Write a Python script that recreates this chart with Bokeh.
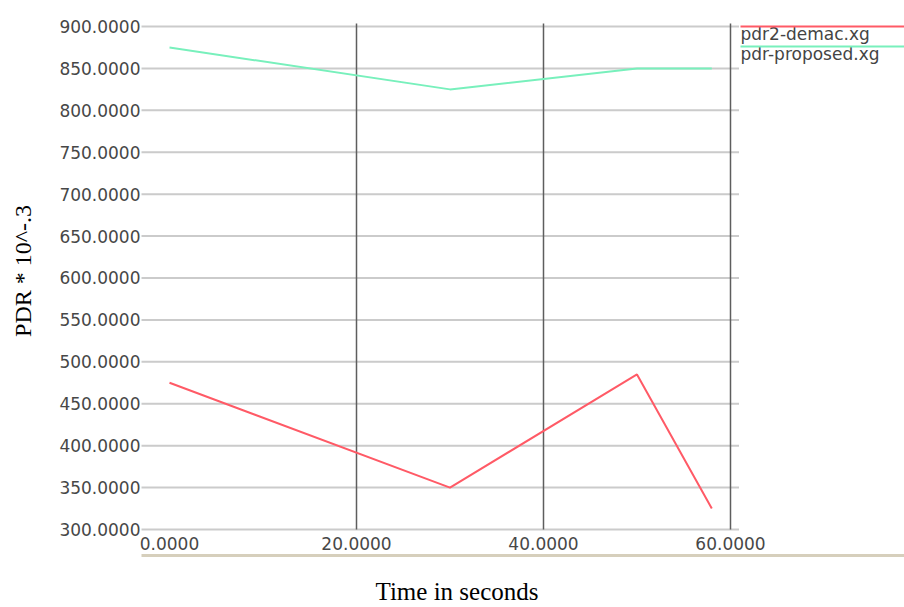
from bokeh.plotting import figure
from bokeh.models import (Range1d, FixedTicker, NumeralTickFormatter, Label, Legend,
                          LegendItem, LinearAxis, Title)
from bokeh.embed import file_html
from bokeh.resources import INLINE

# ---- data ----
time_s = [0, 30, 50, 58]
pdr_demac = [475, 350, 485, 325]
pdr_proposed = [875, 825, 850, 850]
series_names = ["pdr2-demac.xg", "pdr-proposed.xg"]
series_colors = ["#ff5a66", "#78f0bc"]
x_ticks = [0, 20, 40, 60]
x_grid_ticks = [20, 40, 60]
y_ticks = [300, 350, 400, 450, 500, 550, 600, 650, 700, 750, 800, 850, 900]
x_title = "Time in seconds"
y_title = "PDR * 10^-.3"

# plot-area extents (xgraph window): grid box spans x -3..60.9, y 300..903.6
grid_x0, grid_x1 = -2.995, 60.86
grid_y0, grid_y1 = 300, 903.6
spacer_tick = [70]   # hidden tick used only to give the spacer axes their height

p = figure(width=904, height=607, output_backend="svg", toolbar_location=None,
           x_range=Range1d(-2.995, 78.61), y_range=Range1d(297.6, 919.1),
           min_border_left=141, min_border_right=0, min_border_top=10,
           min_border_bottom=76)
p.outline_line_color = None
p.background_fill_color = "white"
p.border_fill_color = "white"
p.xgrid.visible = False
p.ygrid.visible = False

# grid lines of the xgraph box, drawn from the tick arrays
p.segment(x0=[grid_x0] * len(y_ticks), x1=[grid_x1] * len(y_ticks),
          y0=y_ticks, y1=y_ticks, line_color="#969696", line_width=2,
          line_dash="1 1")
p.segment(x0=x_grid_ticks, x1=x_grid_ticks,
          y0=[grid_y0] * len(x_grid_ticks), y1=[grid_y1] * len(x_grid_ticks),
          line_color="#5e5e5e", line_width=1.5)

r_red = p.line(time_s, pdr_demac, line_color=series_colors[0], line_width=2)
r_green = p.line(time_s, pdr_proposed, line_color=series_colors[1], line_width=2)

# axes
tick_font = "DejaVu Sans"
for ax in (p.xaxis[0], p.yaxis[0]):
    ax.axis_line_color = None
    ax.major_tick_line_color = None
    ax.minor_tick_line_color = None
    ax.major_tick_out = 0
    ax.major_tick_in = 0
    ax.major_label_text_font = tick_font
    ax.major_label_text_font_size = "17px"
    ax.major_label_text_color = "#474747"
    ax.formatter = NumeralTickFormatter(format="0.0000")

p.xaxis.ticker = FixedTicker(ticks=x_ticks)
p.yaxis.ticker = FixedTicker(ticks=y_ticks)
p.xaxis.major_label_standoff = 5
p.yaxis.major_label_standoff = 1

p.yaxis.axis_label = y_title
p.yaxis.axis_label_text_font = "Liberation Serif"
p.yaxis.axis_label_text_font_size = "24px"
p.yaxis.axis_label_text_font_style = "normal"
p.yaxis.axis_label_text_color = "black"
p.yaxis.axis_label_standoff = 20


def spacer(height, line_color=None, line_width=1):
    return LinearAxis(ticker=FixedTicker(ticks=spacer_tick),
                      axis_line_color=line_color, axis_line_width=line_width,
                      major_tick_line_color="white", major_tick_line_alpha=0.001,
                      minor_tick_line_color=None, major_tick_out=height,
                      major_tick_in=0, major_label_standoff=0,
                      major_label_overrides={spacer_tick[0]: ""},
                      major_label_text_font_size="1px")


# spacer, then the screenshot's window separator line, then the title
p.add_layout(spacer(3), "below")
p.add_layout(spacer(19, "#d6cfbc", 3), "below")

# x title (sits left of the frame centre, as in the reference)
p.add_layout(Title(text=x_title, align="left", offset=234,
                   text_font="Liberation Serif", text_font_size="25px",
                   text_font_style="normal", text_color="black", standoff=3),
             "below")

# legend lines (xgraph style: line above each name)
leg = Legend(items=[LegendItem(label="", renderers=[r_red]),
                    LegendItem(label="", renderers=[r_green])],
             location=(599, 475), orientation="vertical",
             glyph_width=164, glyph_height=20, spacing=0, padding=0, margin=0,
             label_standoff=0, label_width=0, label_height=0,
             label_text_font_size="1px",
             border_line_color=None, background_fill_alpha=0)
p.add_layout(leg, "center")

for name, yv in zip(series_names, [891.6, 867.8]):
    p.add_layout(Label(x=61.07, y=yv, text=name, text_font=tick_font,
                       text_font_size="17px", text_color="#444444",
                       text_baseline="middle", text_align="left"))

open("out.html", "w").write(file_html(p, INLINE))
